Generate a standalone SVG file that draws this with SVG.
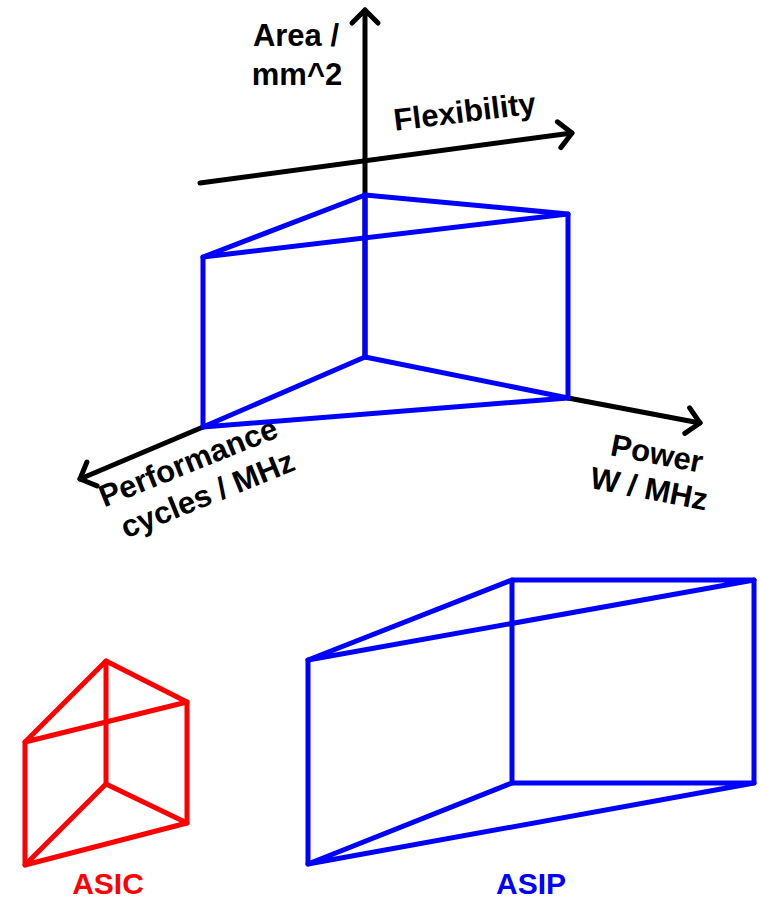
<svg xmlns="http://www.w3.org/2000/svg" width="761" height="899" viewBox="0 0 761 899">
  <style>
    .axis { fill: none; stroke: #000; stroke-width: 5; stroke-linecap: round; }
    .edge { fill: none; stroke-width: 5; stroke-linecap: round; stroke-linejoin: round; }
    .blue { stroke: #0000ff; }
    .red { stroke: #ff0000; }
    .lbl { font-family: "Liberation Sans", Arial, sans-serif; font-weight: bold; font-size: 30px; }
    .ax { font-size: 31px; }
  </style>
  <defs>
    <marker id="chevron" markerUnits="userSpaceOnUse" viewBox="-20 -20 30 40" markerWidth="30" markerHeight="40" refX="0" refY="0" orient="auto" overflow="visible">
      <path d="M-13,-13 L0,0 L-13,13" fill="none" stroke="#000" stroke-width="5" stroke-linecap="round" stroke-linejoin="round"/>
    </marker>
  </defs>

  <rect width="761" height="899" fill="#fff"/>

  <!-- coordinate axes -->
  <g id="axes">
    <line class="axis" x1="365" y1="357" x2="365" y2="10" marker-end="url(#chevron)"/>
    <line class="axis" x1="200" y1="183" x2="572" y2="133" marker-end="url(#chevron)"/>
    <line class="axis" x1="203" y1="427" x2="80" y2="479" marker-end="url(#chevron)"/>
    <line class="axis" x1="568" y1="398" x2="700" y2="423" marker-end="url(#chevron)"/>
  </g>

  <!-- axis labels -->
  <g id="axis-labels" class="lbl ax" fill="#000">
    <text x="296" y="46" text-anchor="middle">Area /</text>
    <text x="297" y="85" text-anchor="middle">mm^2</text>
    <text x="466" y="122" text-anchor="middle" transform="rotate(-7 466 122)">Flexibility</text>
    <g transform="translate(192,472) rotate(-22)">
      <text x="0" y="0" text-anchor="middle">Performance</text>
      <text x="6" y="37" text-anchor="middle">cycles / MHz</text>
    </g>
    <g transform="translate(655,464) rotate(11)">
      <text x="0" y="0" text-anchor="middle">Power</text>
      <text x="-1" y="36" text-anchor="middle">W / MHz</text>
    </g>
  </g>

  <!-- design-space prism on the axes -->
  <g id="design-space" class="edge blue">
    <path d="M365,195 L203,257 L568,214 Z"/>
    <path d="M365,357 L203,427 L568,398 Z"/>
    <path d="M203,257 V427 M365,195 V357 M568,214 V398"/>
  </g>

  <!-- ASIC prism -->
  <g id="asic">
    <g class="edge red">
      <path d="M106,661 L25,742 L187,702 Z"/>
      <path d="M106,784 L25,865 L187,823 Z"/>
      <path d="M25,742 V865 M106,661 V784 M187,702 V823"/>
    </g>
    <text class="lbl" x="108" y="894" text-anchor="middle" fill="#ff0000">ASIC</text>
  </g>

  <!-- ASIP prism -->
  <g id="asip">
    <g class="edge blue">
      <path d="M512,580 L308,660 L754,580 Z"/>
      <path d="M512,783 L308,864 L754,783 Z"/>
      <path d="M308,660 V864 M512,580 V783 M754,580 V783"/>
    </g>
    <text class="lbl" x="531" y="894" text-anchor="middle" fill="#0000ff">ASIP</text>
  </g>
</svg>
